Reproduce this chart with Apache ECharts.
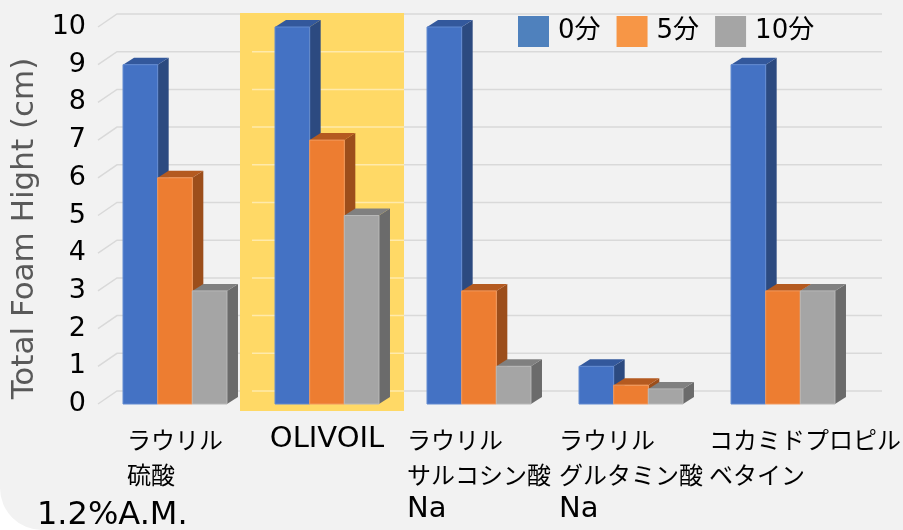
<!DOCTYPE html>
<html>
<head>
<meta charset="utf-8">
<script src="https://cdn.jsdelivr.net/npm/echarts@6/dist/echarts.min.js"></script>
<style>
  html, body { margin: 0; padding: 0; background: #ffffff; }
  #chart { width: 903px; height: 530px; background: #f2f2f2; border-bottom-left-radius: 42px; overflow: hidden; }
</style>
</head>
<body>
<div id="chart"></div>
<script>
// data
var categories = ['ラウリル\n硫酸', 'OLIVOIL', 'ラウリル\nサルコシン酸\nNa', 'ラウリル\nグルタミン酸\nNa', 'コカミドプロピル\nベタイン'];
var seriesNames = ['0分', '5分', '10分'];
var min0 = [9, 10, 10, 1, 9];
var min5 = [6, 7, 3, 0.5, 3];
var min10 = [3, 5, 1, 0.4, 3];
var yTicks = [0, 1, 2, 3, 4, 5, 6, 7, 8, 9, 10];
var highlighted = 'OLIVOIL';

// colours of the faces: front, side, top
var faces = [
    { front: '#4472c4', side: '#2c4a80', top: '#33589c', edge: '#6189d0' },
    { front: '#ed7d31', side: '#9c4e1b', top: '#b45a20', edge: '#f29a5e' },
    { front: '#a5a5a5', side: '#6b6b6b', top: '#808080', edge: '#b8b8b8' }
];
var legendColors = ['#4f81bd', '#f79646', '#a5a5a5'];
var DX = 11, DY = -7;          // bar depth
var WX = 19, WY = -13;         // back wall depth

var chart = echarts.init(document.getElementById('chart'));

function bar3d(k) {
    return function (params, api) {
        var idx = api.value(0);
        var v = api.value(1);
        var base = api.coord([idx, 0]);
        var top = api.coord([idx, v]);
        var band = api.size([1, 0])[0];
        var bw = band * 0.228;
        var x0 = base[0] + (k - 1.5) * bw;
        var x1 = x0 + bw;
        var f = faces[k];
        return {
            type: 'group',
            children: [
                {
                    type: 'polygon',
                    shape: { points: [[x1, top[1]], [x1 + DX, top[1] + DY], [x1 + DX, base[1] + DY], [x1, base[1]]] },
                    style: { fill: f.side }
                },
                {
                    type: 'polygon',
                    shape: { points: [[x0, top[1]], [x0 + DX, top[1] + DY], [x1 + DX, top[1] + DY], [x1, top[1]]] },
                    style: { fill: f.top }
                },
                {
                    type: 'rect',
                    shape: { x: x0, y: top[1], width: bw, height: base[1] - top[1] },
                    style: { fill: f.front, stroke: f.edge, lineWidth: 1 }
                }
            ]
        };
    };
}

function wallLine(params, api) {
    var p = api.coord([0, api.value(1)]);
    var cs = params.coordSys;
    var xl = cs.x - 1;
    return {
        type: 'polyline',
        shape: { points: [[xl, p[1]], [xl + WX, p[1] + WY], [cs.x + cs.width + 23, p[1] + WY]] },
        style: { stroke: '#d9d9d9', lineWidth: 1.5, fill: null }
    };
}

function highlightBox(params, api) {
    var idx = api.value(0);
    var c = api.coord([idx, 0]);
    var band = api.size([1, 0])[0];
    var topY = api.coord([idx, yTicks[yTicks.length - 1]])[1];
    var left = c[0] - band / 2 - 11;
    var right = c[0] + band / 2 + 1;
    var children = [{
        type: 'rect',
        shape: { x: left, y: topY + WY - 1, width: right - left, height: c[1] - topY - WY + 8 },
        style: { fill: '#ffd966' }
    }];
    yTicks.forEach(function (t) {
        if (t === yTicks[yTicks.length - 1]) return;
        var y = api.coord([idx, t])[1] + WY;
        children.push({
            type: 'line',
            shape: { x1: left + 12, y1: y, x2: right, y2: y },
            style: { stroke: 'rgba(255,255,255,0.45)', lineWidth: 1.5 }
        });
    });
    return { type: 'group', children: children };
}

function toPairs(arr) {
    return arr.map(function (v, i) { return [i, v]; });
}

var allValues = [min0, min5, min10];
var barSeries = seriesNames.map(function (name, k) {
    return {
        name: name,
        type: 'custom',
        renderItem: bar3d(k),
        itemStyle: { color: legendColors[k] },
        encode: { x: 0, y: 1 },
        data: toPairs(allValues[k]),
        z: 3
    };
});

var option = {
    animation: false,
    backgroundColor: 'transparent',
    grid: { left: 99, right: 44, top: 27, bottom: 126, outerBoundsMode: 'none', containLabel: false },
    legend: {
        left: 513,
        top: 11,
        itemWidth: 31,
        itemHeight: 31,
        itemGap: 16,
        icon: 'rect',
        textStyle: { fontSize: 26, color: '#000', fontFamily: 'DejaVu Sans, Noto Sans CJK JP', padding: [0, 0, 0, 4] },
        data: seriesNames.map(function (n, k) {
            return { name: n, itemStyle: { color: legendColors[k] } };
        })
    },
    xAxis: {
        type: 'category',
        data: categories,
        axisLine: { show: false },
        axisTick: { show: false },
        splitLine: { show: false },
        axisLabel: {
            interval: 0,
            margin: 18,
            formatter: function (value, index) {
                // the last label sits a little to the right, as in the picture
                var last = index === categories.length - 1;
                return value.split('\n').map(function (line) {
                    var s = /^[\x00-\x7f]+$/.test(line) ? 'b' : 'a';
                    return '{' + s + (last ? 'r' : '') + '|' + line + '}';
                }).join('\n');
            },
            rich: {
                a: { align: 'left', fontSize: 24, lineHeight: 35, color: '#000', fontFamily: 'Noto Sans CJK JP' },
                b: { align: 'left', fontSize: 29, lineHeight: 35, color: '#000', fontFamily: 'DejaVu Sans' },
                ar: { align: 'left', fontSize: 24, lineHeight: 35, color: '#000', fontFamily: 'Noto Sans CJK JP', padding: [0, 0, 0, 44] }
            }
        }
    },
    yAxis: {
        type: 'value',
        min: 0,
        max: 10,
        interval: 1,
        name: 'Total Foam Hight (cm)',
        nameLocation: 'middle',
        nameGap: 52,
        nameRotate: 90,
        nameTextStyle: { fontSize: 31, color: '#595959', fontFamily: 'DejaVu Sans', padding: [0, 26, 0, 0] },
        axisLine: { show: false },
        axisTick: { show: false },
        splitLine: { show: false },
        axisLabel: { fontSize: 27, color: '#000', fontFamily: 'DejaVu Sans', margin: 13, padding: [8, 0, 0, 0] }
    },
    graphic: [{
        type: 'text',
        left: 37,
        top: 500,
        style: { text: '1.2%A.M.', fontSize: 32, fill: '#000', fontFamily: 'DejaVu Sans' }
    }],
    series: [
        {
            name: 'wall',
            type: 'custom',
            renderItem: wallLine,
            encode: { x: 0, y: 1 },
            data: yTicks.map(function (t) { return [0, t]; }),
            silent: true,
            z: 1
        },
        {
            name: 'highlight',
            type: 'custom',
            renderItem: highlightBox,
            encode: { x: 0 },
            data: [[categories.indexOf(highlighted), 0]],
            silent: true,
            z: 2
        }
    ].concat(barSeries)
};

chart.setOption(option);
</script>
</body>
</html>
